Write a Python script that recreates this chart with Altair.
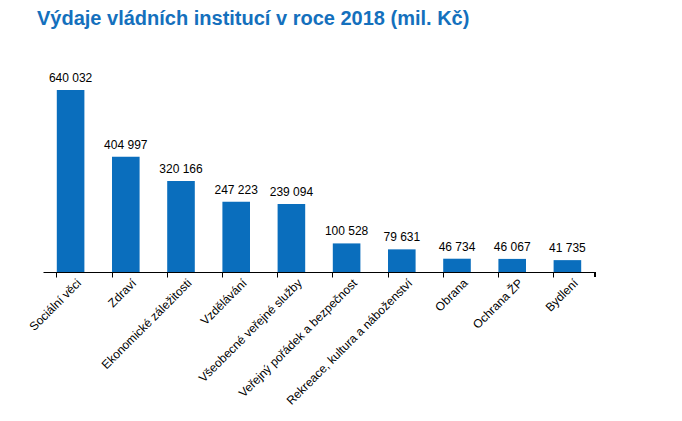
import altair as alt
import pandas as pd

categories = ["Sociální věci", "Zdraví", "Ekonomické záležitosti", "Vzdělávání",
              "Všeobecné veřejné služby", "Veřejný pořádek a bezpečnost",
              "Rekreace, kultura a náboženství", "Obrana", "Ochrana ŽP", "Bydlení"]
values = [640032, 404997, 320166, 247223, 239094, 100528, 79631, 46734, 46067, 41735]
value_labels = ["640 032", "404 997", "320 166", "247 223", "239 094",
                "100 528", "79 631", "46 734", "46 067", "41 735"]

df = pd.DataFrame({"cat": categories, "val": values, "lbl": value_labels})

W, H = 552, 212
BLUE = "#0A6EBD"

x = alt.X("cat:N", sort=None, title=None,
          scale=alt.Scale(paddingInner=0.5, paddingOuter=0.25),
          axis=alt.Axis(labelAngle=-45, labelFont="Liberation Sans", labelFontSize=12,
                        labelColor="#000000", domainColor="#000000", tickColor="#000000",
                        tickSize=5, bandPosition=0, labelPadding=0, labelOffset=5,
                        labelLimit=400))
y = alt.Y("val:Q", title=None, scale=alt.Scale(domain=[0, 745500]), axis=None)

bars = alt.Chart(df).mark_bar(color=BLUE).encode(x=x, y=y)
text = alt.Chart(df).mark_text(baseline="bottom", dy=-5, font="Liberation Sans",
                               fontSize=12, color="#000000").encode(x=x, y=y, text="lbl:N")
endtick = alt.Chart(df).mark_rule(color="#000000").encode(
    x=alt.value(W), y=alt.value(H), y2=alt.value(H + 5))

chart = alt.layer(bars, text, endtick).properties(
    width=W, height=H,
    padding={"left": 35, "top": 52, "right": 79, "bottom": 141},
    autosize=alt.AutoSizeParams(type="none"),
    title=alt.Title("Výdaje vládních institucí v roce 2018 (mil. Kč)",
                    anchor="start", frame="group", font="Liberation Sans", fontSize=20,
                    fontWeight="bold", color="#1470BD", dx=-6, offset=31)
).configure_view(stroke=None)

chart.save("out.html", embed_options={"renderer": "svg", "actions": False})
